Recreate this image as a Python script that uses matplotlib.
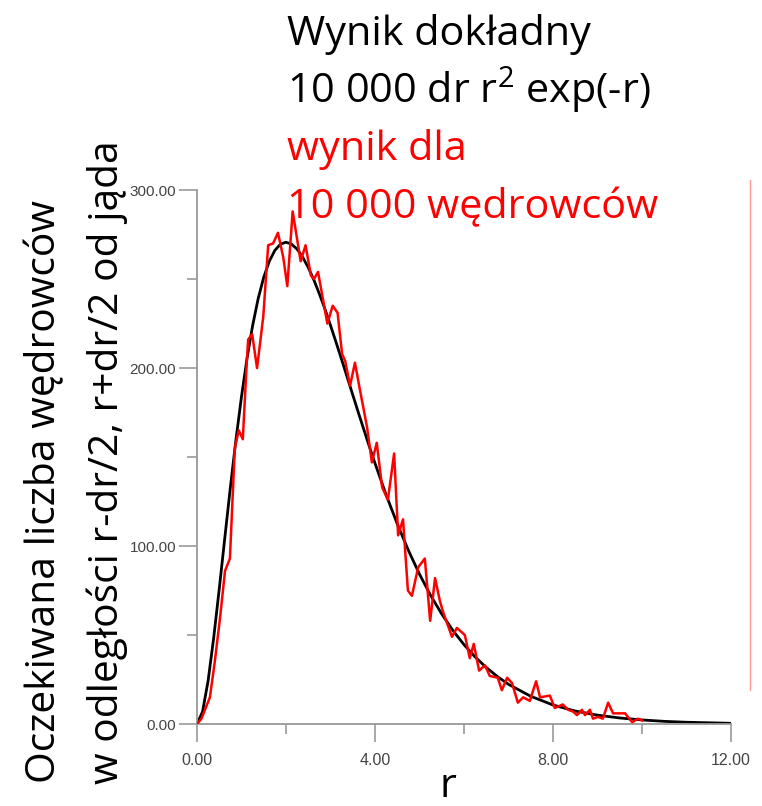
import matplotlib
matplotlib.use("Agg")
import matplotlib.pyplot as plt
from matplotlib.lines import Line2D

plt.rcParams['font.family'] = ['Open Sans', 'DejaVu Sans']
plt.rcParams['mathtext.fontset'] = 'custom'
plt.rcParams['mathtext.rm'] = 'Open Sans'

# exact result 10000 dr r^2 exp(-r), dr = 0.05
r_exact = [0.0, 0.125, 0.25, 0.375, 0.5, 0.625, 0.75, 0.875, 1.0, 1.125,
           1.25, 1.375, 1.5, 1.625, 1.75, 1.875, 2.0, 2.125, 2.25, 2.375,
           2.5, 2.625, 2.75, 2.875, 3.0, 3.125, 3.25, 3.375, 3.5, 3.625,
           3.75, 3.875, 4.0, 4.25, 4.5, 4.75, 5.0, 5.25, 5.5, 5.75,
           6.0, 6.25, 6.5, 6.75, 7.0, 7.5, 8.0, 8.5, 9.0, 9.5, 10.0, 10.5,
           11.0, 11.5, 12.0]
n_exact = [0.0, 6.9, 24.3, 48.3, 75.8, 104.5, 132.9, 159.6, 183.9, 205.5,
           223.8, 239.0, 251.0, 260.0, 266.1, 269.6, 270.7, 269.6, 266.8, 262.3,
           256.5, 249.6, 241.7, 233.2, 224.0, 214.5, 204.8, 194.9, 185.0, 175.1,
           165.4, 155.8, 146.5, 128.8, 112.5, 97.6, 84.2, 72.3, 61.8, 52.6,
           44.6, 37.7, 31.8, 26.7, 22.3, 15.6, 10.7, 7.3, 5.0, 3.4, 2.3, 1.5,
           1.0, 0.7, 0.4]

# simulation with 10 000 walkers
r_sim = [0.0, 0.1, 0.18, 0.29, 0.4, 0.52, 0.63, 0.74, 0.85, 0.94, 1.03, 1.12,
         1.15, 1.24, 1.35, 1.49, 1.6, 1.71, 1.82, 1.94, 2.03, 2.15, 2.24,
         2.33, 2.44, 2.56, 2.63, 2.72, 2.93, 3.05, 3.16, 3.26, 3.33, 3.44,
         3.55, 3.66, 3.82, 3.93, 4.04, 4.16, 4.29, 4.43, 4.52, 4.63, 4.74,
         4.83, 4.97, 5.12, 5.24, 5.35, 5.46, 5.53, 5.73, 5.84, 6.02, 6.13,
         6.22, 6.34, 6.47, 6.58, 6.76, 6.85, 6.97, 7.08, 7.21, 7.33, 7.48,
         7.62, 7.71, 7.93, 8.04, 8.22, 8.34, 8.45, 8.54, 8.65, 8.72, 8.83,
         8.9, 9.01, 9.12, 9.24, 9.35, 9.46, 9.62, 9.78, 9.91, 10.0]
n_sim = [0.0, 3, 8, 15, 35, 60, 86, 93, 155, 165, 160, 204,
         216, 219, 200, 229, 269, 270, 276, 262, 246, 288, 274,
         260, 269, 252, 250, 254, 225, 235, 231, 208, 204, 190,
         203, 188, 167, 147, 158, 133, 126, 152, 106, 115, 75,
         72, 88, 93, 58, 82, 69, 63, 49, 54, 50, 37,
         45, 30, 33, 27, 26, 19, 26, 23, 12, 15, 13,
         24, 15, 16, 9, 11, 8, 7, 5, 8, 5, 8,
         3, 4, 3, 12, 6, 6, 6, 1, 3, 2]

x_ticks = [0, 4, 8, 12]
y_ticks = [0, 100, 200, 300]

fig = plt.figure(figsize=(7.62, 8.06), dpi=100)
ax = fig.add_axes([0.2585, 0.1017, 0.7008, 0.6625])

ax.plot(r_exact, n_exact, color='black', lw=2.0, zorder=2)
ax.plot(r_sim, n_sim, color='red', lw=1.8, zorder=3)

ax.set_xlim(0, 12)
ax.set_ylim(0, 300)
ax.set_xticks(x_ticks)
ax.set_xticklabels([f"{v:.2f}" for v in x_ticks])
ax.set_yticks(y_ticks)
ax.set_yticklabels([f"{v:.2f}" for v in y_ticks])
ax.set_xticks([2, 6, 10], minor=True)
ax.set_yticks([50, 150, 250], minor=True)

for s in ['top', 'right']:
    ax.spines[s].set_visible(False)
for s in ['left', 'bottom']:
    ax.spines[s].set_color('#999999')
    ax.spines[s].set_linewidth(1.3)
ax.tick_params(which='major', length=13, width=1.2, color='#999999',
               labelcolor='#444444')
ax.tick_params(which='minor', length=7, width=1.2, color='#999999')
ax.tick_params(axis='x', pad=8, labelsize=11.5)
ax.tick_params(axis='y', pad=2, labelsize=11)
for lab in ax.get_xticklabels() + ax.get_yticklabels():
    lab.set_family('Liberation Sans')
ax.set_facecolor('white')

# thin red line at the right edge
fig.add_artist(Line2D([750 / 762, 750 / 762], [1 - 180 / 806, 1 - 690 / 806],
                      color='#ff9999', lw=1.0))

# legend text
fs = 29.8
tx = 287 / 762
fig.text(tx, 1 - 45 / 806, "Wynik dokładny", fontsize=fs, color='black', va='baseline')
fig.text(tx, 1 - 103 / 806, r"10 000 dr r$^{\mathrm{2}}$ exp(-r)", fontsize=fs,
         color='black', va='baseline')
fig.text(tx, 1 - 160 / 806, "wynik dla", fontsize=fs, color='red', va='baseline')
fig.text(tx, 1 - 218 / 806, "10 000 wędrowców", fontsize=fs, color='red', va='baseline')

# y label (two lines)
fs_y = 29.3
fig.text(55 / 762, 1 - 200 / 806, "Oczekiwana liczba wędrowców", fontsize=fs_y,
         rotation=90, rotation_mode='anchor', ha='right', va='baseline')
fig.text(118 / 762, 1 - 140 / 806, "w odległości r-dr/2, r+dr/2 od jąda", fontsize=fs_y,
         rotation=90, rotation_mode='anchor', ha='right', va='baseline')

# x label
fig.text(448 / 762, 1 - 797 / 806, "r", fontsize=fs, ha='center', va='baseline')

fig.savefig("out.png", dpi=100, facecolor='white')
